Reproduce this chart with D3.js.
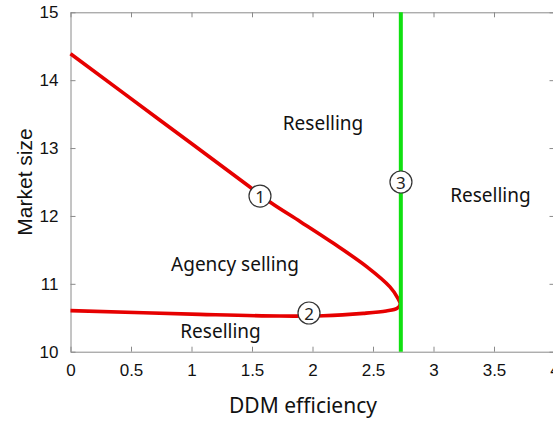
<!DOCTYPE html>
<html>
<head>
<meta charset="utf-8">
<script src="https://cdn.jsdelivr.net/npm/d3@7"></script>
<style>
  body { margin: 0; background: #fff; }
  svg { display: block; }
</style>
</head>
<body>
<div id="chart"></div>
<script>
/* --- Data --- */
const xTicks = [0, 0.5, 1, 1.5, 2, 2.5, 3, 3.5, 4];
const xTickLabels = ["0", "0.5", "1", "1.5", "2", "2.5", "3", "3.5", "4"];
const yTicks = [10, 11, 12, 13, 14, 15];
const yTickLabels = ["10", "11", "12", "13", "14", "15"];

// boundary curve: upper branch to the tip, then lower branch back to x = 0
const boundaryX = [0, 0.74, 1.48, 1.66, 1.90, 2.17, 2.45, 2.64, 2.705, 2.725, 2.70, 2.61, 2.42, 2.09, 1.73, 1.07, 0];
const boundaryY = [14.39, 13.41, 12.43, 12.19, 11.915, 11.60, 11.25, 10.955, 10.79, 10.70, 10.64, 10.60, 10.565, 10.53, 10.525, 10.55, 10.605];

const thresholdX = 2.73; // green vertical line

const regionLabels = ["Reselling", "Reselling", "Agency selling", "Reselling"];
const regionX = [2.087, 3.47, 1.36, 1.24];
const regionY = [13.37, 12.31, 11.29, 10.30];

const markerLabels = ["1", "2", "3"];
const markerX = [1.566, 1.971, 2.731];
const markerY = [12.293, 10.57, 12.5];

/* --- Layout --- */
const W = 553, H = 421;
const margin = { top: 12.3, left: 70.5 };
const plotW = 484, plotH = 339.4;

const svg = d3.select("#chart").append("svg")
    .attr("width", W)
    .attr("height", H);

const g = svg.append("g")
    .attr("transform", `translate(${margin.left}, ${margin.top})`);

const x = d3.scaleLinear().domain([0, 4]).range([0, plotW]);
const y = d3.scaleLinear().domain([10, 15]).range([plotH, 0]);

const axisColor = "#8a8a8a";
const tickFont = "'Liberation Sans', Arial, sans-serif";
const textFont = "'Noto Sans', 'Open Sans', sans-serif";

function styleAxis(sel, showText) {
    sel.select(".domain").attr("stroke", axisColor);
    sel.selectAll(".tick line").attr("stroke", axisColor);
    sel.selectAll(".tick text")
        .attr("fill", "#111")
        .style("font-family", tickFont)
        .style("font-size", "17px");
    if (!showText) sel.selectAll(".tick text").remove();
}

// Axes (box with inward ticks)
g.append("g")
    .attr("transform", `translate(0, ${plotH})`)
    .call(d3.axisBottom(x).tickValues(xTicks).tickFormat((d, i) => xTickLabels[i]).tickSizeInner(-5).tickSizeOuter(0).tickPadding(12))
    .call(s => styleAxis(s, true));

g.append("g")
    .call(d3.axisTop(x).tickValues(xTicks).tickSizeInner(-5).tickSizeOuter(0))
    .call(s => styleAxis(s, false));

g.append("g")
    .call(d3.axisLeft(y).tickValues(yTicks).tickFormat((d, i) => yTickLabels[i]).tickSizeInner(-5).tickSizeOuter(0).tickPadding(12))
    .call(s => styleAxis(s, true));

g.append("g")
    .attr("transform", `translate(${plotW}, 0)`)
    .call(d3.axisRight(y).tickValues(yTicks).tickSizeInner(-5).tickSizeOuter(0))
    .call(s => styleAxis(s, false));

// Boundary curve (red)
const pts = boundaryX.map((v, i) => [v, boundaryY[i]]);
g.append("path")
    .datum(pts)
    .attr("fill", "none")
    .attr("stroke", "#e60000")
    .attr("stroke-width", 3.6)
    .attr("stroke-linejoin", "round")
    .attr("d", d3.line().x(d => x(d[0])).y(d => y(d[1])).curve(d3.curveCatmullRom.alpha(0.5)));

// Threshold (green)
g.append("line")
    .attr("x1", x(thresholdX)).attr("x2", x(thresholdX))
    .attr("y1", y(15)).attr("y2", y(10))
    .attr("stroke", "#11e011")
    .attr("stroke-width", 4);

// Region labels
g.selectAll(".region")
    .data(regionLabels)
    .enter().append("text")
    .attr("x", (d, i) => x(regionX[i]))
    .attr("y", (d, i) => y(regionY[i]))
    .attr("text-anchor", "middle")
    .attr("dominant-baseline", "central")
    .style("font-family", textFont)
    .style("font-size", "19px")
    .attr("fill", "#111")
    .text(d => d);

// Circled markers
const mk = g.selectAll(".marker")
    .data(markerLabels)
    .enter().append("g")
    .attr("transform", (d, i) => `translate(${x(markerX[i])}, ${y(markerY[i])})`);

mk.append("circle")
    .attr("r", 11)
    .attr("fill", "#fff")
    .attr("stroke", "#333")
    .attr("stroke-width", 1.2);

mk.append("text")
    .attr("text-anchor", "middle")
    .attr("dominant-baseline", "central")
    .attr("dy", "0.02em")
    .style("font-family", textFont)
    .style("font-size", "17px")
    .attr("fill", "#222")
    .text(d => d);

// Axis titles
svg.append("text")
    .attr("x", 303)
    .attr("y", 405)
    .attr("text-anchor", "middle")
    .attr("dominant-baseline", "central")
    .style("font-family", textFont)
    .style("font-size", "21px")
    .attr("fill", "#111")
    .text("DDM efficiency");

svg.append("text")
    .attr("transform", "translate(24, 182) rotate(-90)")
    .attr("text-anchor", "middle")
    .attr("dominant-baseline", "central")
    .style("font-family", tickFont)
    .style("font-size", "21px")
    .attr("fill", "#111")
    .text("Market size");
</script>
</body>
</html>
